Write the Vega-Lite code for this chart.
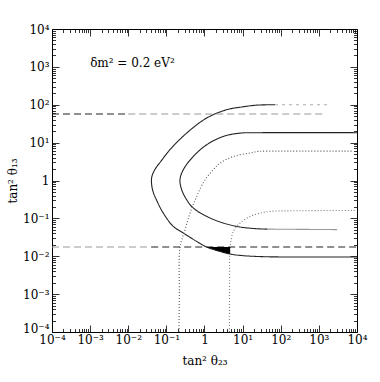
{
  "$schema": "https://vega.github.io/schema/vega-lite/v6.json",
  "autosize": {"type": "none"},
  "padding": {"left": 52, "top": 29, "right": 23, "bottom": 50},
  "width": 305,
  "height": 303,
  "background": "white",
  "config": {
    "view": {"stroke": "black", "strokeWidth": 1},
    "axis": {
      "domain": false, "grid": false,
      "labelFont": "DejaVu Serif", "labelFontSize": 12, "labelColor": "black",
      "tickColor": "black", "tickWidth": 0.8,
      "labelOverlap": false, "labelFlush": false, "labelBound": false,
      "titleFont": "DejaVu Serif", "titleFontSize": 12, "titleFontWeight": "normal", "titleColor": "black"
    }
  },
  "datasets": {
    "curves": [
      {"s": "outer", "i": 1, "x": 70.8, "y": 100},
      {"s": "outer", "i": 2, "x": 23.6, "y": 97.7},
      {"s": "outer", "i": 3, "x": 10, "y": 88},
      {"s": "outer", "i": 4, "x": 3.85, "y": 74.0},
      {"s": "outer", "i": 5, "x": 1.146, "y": 44.7},
      {"s": "outer", "i": 6, "x": 0.341, "y": 17.9},
      {"s": "outer", "i": 7, "x": 0.124, "y": 6.5},
      {"s": "outer", "i": 8, "x": 0.075, "y": 3.4},
      {"s": "outer", "i": 9, "x": 0.05, "y": 1.95},
      {"s": "outer", "i": 10, "x": 0.0415, "y": 1.25},
      {"s": "outer", "i": 11, "x": 0.041, "y": 0.8},
      {"s": "outer", "i": 12, "x": 0.045, "y": 0.5},
      {"s": "outer", "i": 13, "x": 0.0555, "y": 0.3},
      {"s": "outer", "i": 14, "x": 0.0828, "y": 0.138},
      {"s": "outer", "i": 15, "x": 0.152, "y": 0.0614},
      {"s": "outer", "i": 16, "x": 0.278, "y": 0.041},
      {"s": "outer", "i": 17, "x": 0.625, "y": 0.0246},
      {"s": "outer", "i": 18, "x": 1.146, "y": 0.0175},
      {"s": "outer", "i": 19, "x": 2.21, "y": 0.01396},
      {"s": "outer", "i": 20, "x": 4.7, "y": 0.01146},
      {"s": "outer", "i": 21, "x": 8.59, "y": 0.01052},
      {"s": "outer", "i": 22, "x": 31.6, "y": 0.00977},
      {"s": "outer", "i": 23, "x": 316, "y": 0.00955},
      {"s": "outer", "i": 24, "x": 10000, "y": 0.00955},
      {"s": "outerTail", "i": 1, "x": 70.8, "y": 100},
      {"s": "outerTail", "i": 2, "x": 1780, "y": 100},
      {"s": "inner", "i": 1, "x": 10000, "y": 18.3},
      {"s": "inner", "i": 2, "x": 31.6, "y": 18.3},
      {"s": "inner", "i": 3, "x": 8.59, "y": 17.8},
      {"s": "inner", "i": 4, "x": 3.13, "y": 14.6},
      {"s": "inner", "i": 5, "x": 1.146, "y": 8.81},
      {"s": "inner", "i": 6, "x": 0.509, "y": 4.33},
      {"s": "inner", "i": 7, "x": 0.278, "y": 1.93},
      {"s": "inner", "i": 8, "x": 0.2275, "y": 1.05},
      {"s": "inner", "i": 9, "x": 0.252, "y": 0.571},
      {"s": "inner", "i": 10, "x": 0.341, "y": 0.31},
      {"s": "inner", "i": 11, "x": 0.509, "y": 0.1875},
      {"s": "inner", "i": 12, "x": 1.146, "y": 0.1127},
      {"s": "inner", "i": 13, "x": 3.13, "y": 0.0753},
      {"s": "inner", "i": 14, "x": 8.59, "y": 0.0592},
      {"s": "inner", "i": 15, "x": 23.6, "y": 0.0533},
      {"s": "inner", "i": 16, "x": 44.7, "y": 0.052},
      {"s": "innerTail", "i": 1, "x": 44.7, "y": 0.052},
      {"s": "innerTail", "i": 2, "x": 3020, "y": 0.0505},
      {"s": "dot1", "i": 1, "x": 0.214, "y": 0.0001},
      {"s": "dot1", "i": 2, "x": 0.219, "y": 0.001},
      {"s": "dot1", "i": 3, "x": 0.2275, "y": 0.017},
      {"s": "dot1", "i": 4, "x": 0.309, "y": 0.0501},
      {"s": "dot1", "i": 5, "x": 0.417, "y": 0.138},
      {"s": "dot1", "i": 6, "x": 0.625, "y": 0.38},
      {"s": "dot1", "i": 7, "x": 1.035, "y": 1.05},
      {"s": "dot1", "i": 8, "x": 1.71, "y": 1.93},
      {"s": "dot1", "i": 9, "x": 2.56, "y": 2.89},
      {"s": "dot1", "i": 10, "x": 5.73, "y": 4.33},
      {"s": "dot1", "i": 11, "x": 15.7, "y": 5.32},
      {"s": "dot1", "i": 12, "x": 26.0, "y": 5.86},
      {"s": "dot1", "i": 13, "x": 100, "y": 5.96},
      {"s": "dot1", "i": 14, "x": 7940, "y": 5.96},
      {"s": "dot2", "i": 1, "x": 4.5, "y": 0.0001},
      {"s": "dot2", "i": 2, "x": 4.55, "y": 0.0024},
      {"s": "dot2", "i": 3, "x": 4.69, "y": 0.01648},
      {"s": "dot2", "i": 4, "x": 5.73, "y": 0.0453},
      {"s": "dot2", "i": 5, "x": 8.59, "y": 0.0753},
      {"s": "dot2", "i": 6, "x": 15.7, "y": 0.1127},
      {"s": "dot2", "i": 7, "x": 28.8, "y": 0.138},
      {"s": "dot2", "i": 8, "x": 52.5, "y": 0.153},
      {"s": "dot2", "i": 9, "x": 324, "y": 0.159},
      {"s": "dot2", "i": 10, "x": 9120, "y": 0.162},
      {"s": "hiK", "i": 1, "x": 0.0001, "y": 57},
      {"s": "hiK", "i": 2, "x": 0.01, "y": 57},
      {"s": "hiG", "i": 1, "x": 0.01, "y": 57},
      {"s": "hiG", "i": 2, "x": 1500, "y": 57},
      {"s": "loG", "i": 1, "x": 0.0001, "y": 0.0175},
      {"s": "loG", "i": 2, "x": 0.04, "y": 0.0175},
      {"s": "loK", "i": 1, "x": 0.04, "y": 0.0175},
      {"s": "loK", "i": 2, "x": 10000, "y": 0.0175}
    ],
    "fill": [
      {"x": 1.146, "y": 0.0175, "y2": 0.0175},
      {"x": 2.21, "y": 0.01396, "y2": 0.0175},
      {"x": 4.7, "y": 0.01146, "y2": 0.0175}
    ],
    "note": [
      {"x": 0.001, "y": 1290, "t": "δm² = 0.2 eV²"}
    ]
  },
  "resolve": {"scale": {"x": "shared", "y": "shared"}, "axis": {"x": "independent", "y": "independent"}},
  "layer": [
    {
      "data": {"name": "curves"},
      "mark": {"type": "line", "strokeWidth": 1.1, "interpolate": "catmull-rom", "clip": true},
      "encoding": {
        "x": {
          "field": "x", "type": "quantitative",
          "scale": {"type": "log", "domain": [0.0001, 10000], "nice": false, "zero": false},
          "axis": {
            "orient": "bottom",
            "values": [0.0001,0.0002,0.0003,0.0004,0.0005,0.0006,0.0007,0.0008,0.0009,0.001,0.002,0.003,0.004,0.005,0.006,0.007,0.008,0.009,0.01,0.02,0.03,0.04,0.05,0.06,0.07,0.08,0.09,0.1,0.2,0.3,0.4,0.5,0.6,0.7,0.8,0.9,1,2,3,4,5,6,7,8,9,10,20,30,40,50,60,70,80,90,100,200,300,400,500,600,700,800,900,1000,2000,3000,4000,5000,6000,7000,8000,9000,10000],
            "labelExpr": "abs(log(datum.value)/LN10 - round(log(datum.value)/LN10)) > 0.01 ? '' : ['10⁻⁴','10⁻³','10⁻²','10⁻¹','1','10¹','10²','10³','10⁴'][round(log(datum.value)/LN10)+4]",
            "tickSize": {"condition": {"test": "abs(log(datum.value)/LN10 - round(log(datum.value)/LN10)) < 0.01", "value": -7}, "value": -3.5},
            "labelPadding": 9,
            "title": "tan² θ₂₃",
            "titlePadding": 7
          }
        },
        "y": {
          "field": "y", "type": "quantitative",
          "scale": {"type": "log", "domain": [0.0001, 10000], "nice": false, "zero": false},
          "axis": {
            "orient": "left",
            "values": [0.0001,0.0002,0.0003,0.0004,0.0005,0.0006,0.0007,0.0008,0.0009,0.001,0.002,0.003,0.004,0.005,0.006,0.007,0.008,0.009,0.01,0.02,0.03,0.04,0.05,0.06,0.07,0.08,0.09,0.1,0.2,0.3,0.4,0.5,0.6,0.7,0.8,0.9,1,2,3,4,5,6,7,8,9,10,20,30,40,50,60,70,80,90,100,200,300,400,500,600,700,800,900,1000,2000,3000,4000,5000,6000,7000,8000,9000,10000],
            "labelExpr": "abs(log(datum.value)/LN10 - round(log(datum.value)/LN10)) > 0.01 ? '' : ['10⁻⁴','10⁻³','10⁻²','10⁻¹','1','10¹','10²','10³','10⁴'][round(log(datum.value)/LN10)+4]",
            "labelBaseline": {"condition": {"test": "datum.value < 0.00015", "value": "alphabetic"}, "value": "middle"},
            "tickSize": {"condition": {"test": "abs(log(datum.value)/LN10 - round(log(datum.value)/LN10)) < 0.01", "value": -7}, "value": -3.5},
            "labelPadding": 10,
            "title": "tan² θ₁₃",
            "titlePadding": 3
          }
        },
        "detail": {"field": "s"},
        "order": {"field": "i", "type": "quantitative"},
        "color": {
          "field": "s", "type": "nominal", "legend": null,
          "scale": {
            "domain": ["outer", "outerTail", "inner", "innerTail", "dot1", "dot2", "hiK", "hiG", "loG", "loK"],
            "range": ["#222222", "#aaaaaa", "#222222", "#999999", "#555555", "#777777", "#222222", "#999999", "#999999", "#222222"]
          }
        },
        "strokeDash": {
          "field": "s", "type": "nominal", "legend": null,
          "scale": {
            "domain": ["outer", "outerTail", "inner", "innerTail", "dot1", "dot2", "hiK", "hiG", "loG", "loK"],
            "range": [[1, 0], [3, 4], [1, 0], [1, 0], [1, 2], [1, 2], [7, 4], [7, 4], [7, 4], [7, 4]]
          }
        }
      }
    },
    {
      "data": {"name": "fill"},
      "mark": {"type": "area", "color": "black", "interpolate": "linear"},
      "encoding": {
        "x": {
          "field": "x", "type": "quantitative",
          "axis": {
            "orient": "top", "labels": false, "title": null,
            "values": [0.0001,0.0002,0.0003,0.0004,0.0005,0.0006,0.0007,0.0008,0.0009,0.001,0.002,0.003,0.004,0.005,0.006,0.007,0.008,0.009,0.01,0.02,0.03,0.04,0.05,0.06,0.07,0.08,0.09,0.1,0.2,0.3,0.4,0.5,0.6,0.7,0.8,0.9,1,2,3,4,5,6,7,8,9,10,20,30,40,50,60,70,80,90,100,200,300,400,500,600,700,800,900,1000,2000,3000,4000,5000,6000,7000,8000,9000,10000],
            "tickSize": {"condition": {"test": "abs(log(datum.value)/LN10 - round(log(datum.value)/LN10)) < 0.01", "value": -7}, "value": -3.5}
          }
        },
        "y": {
          "field": "y", "type": "quantitative",
          "axis": {
            "orient": "right", "labels": false, "title": null,
            "values": [0.0001,0.0002,0.0003,0.0004,0.0005,0.0006,0.0007,0.0008,0.0009,0.001,0.002,0.003,0.004,0.005,0.006,0.007,0.008,0.009,0.01,0.02,0.03,0.04,0.05,0.06,0.07,0.08,0.09,0.1,0.2,0.3,0.4,0.5,0.6,0.7,0.8,0.9,1,2,3,4,5,6,7,8,9,10,20,30,40,50,60,70,80,90,100,200,300,400,500,600,700,800,900,1000,2000,3000,4000,5000,6000,7000,8000,9000,10000],
            "tickSize": {"condition": {"test": "abs(log(datum.value)/LN10 - round(log(datum.value)/LN10)) < 0.01", "value": -7}, "value": -3.5}
          }
        },
        "y2": {"field": "y2"}
      }
    },
    {
      "data": {"name": "note"},
      "mark": {"type": "text", "align": "left", "baseline": "middle", "font": "DejaVu Serif", "fontSize": 12, "color": "black"},
      "encoding": {
        "x": {"field": "x", "type": "quantitative", "axis": null},
        "y": {"field": "y", "type": "quantitative", "axis": null},
        "text": {"field": "t"}
      }
    }
  ]
}
